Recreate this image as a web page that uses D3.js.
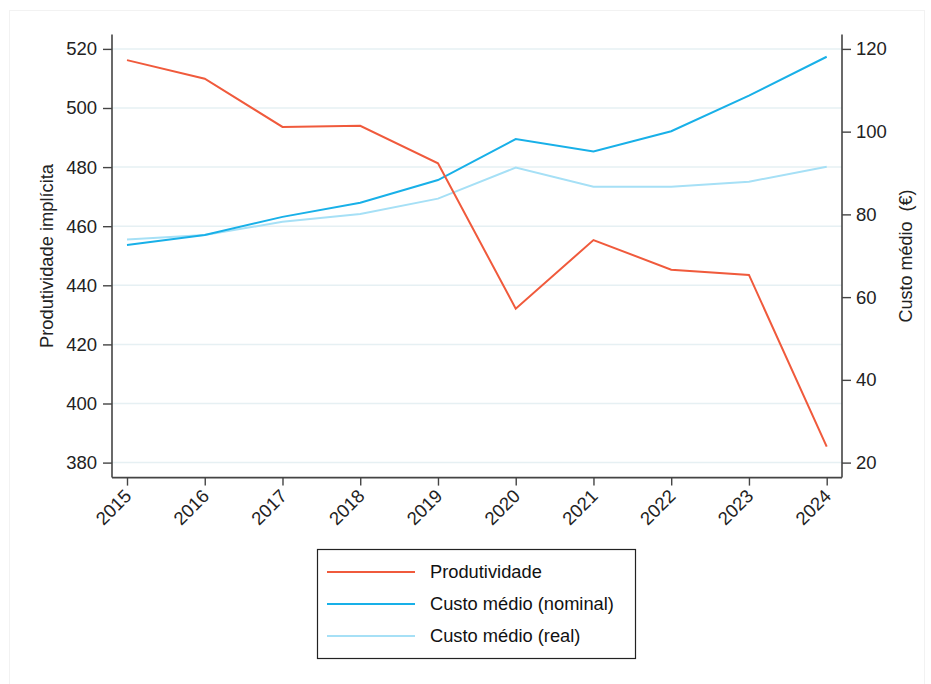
<!DOCTYPE html>
<html><head><meta charset="utf-8">
<script src="https://cdn.jsdelivr.net/npm/d3@7"></script>
<style>body{margin:0;background:#fff;}svg{display:block;font-family:"Liberation Sans",Arial,sans-serif;}</style>
</head><body><svg id="c" width="931" height="684"></svg>
<script>
const years = [2015,2016,2017,2018,2019,2020,2021,2022,2023,2024];
const produtividade = [516.2,509.9,493.6,494.0,481.3,432.1,455.3,445.3,443.5,385.4];
const custoNominal = [72.6,75.0,79.4,82.8,88.3,98.2,95.2,100.1,108.7,118.1];
const custoReal = [73.9,75.0,78.2,80.1,83.8,91.3,86.7,86.7,87.9,91.5];
const leftTicks = [380,400,420,440,460,480,500,520];
const rightTicks = [20,40,60,80,100,120];
const seriesNames = ["Produtividade","Custo médio (nominal)","Custo médio (real)"];
const colors = ["#f05a3c","#18b0e8","#a6e0f6"];

const svg = d3.select("#c");
const L=112, R=842, T=34.4, B=477.6;
svg.append("rect").attr("x",9.5).attr("y",10.5).attr("width",915).attr("height",680).attr("fill","none").attr("stroke","#f2f2f2");

const x = d3.scalePoint().domain(years).range([127,826.7]);
const yL = d3.scaleLinear().domain([380,520]).range([462.6,48.9]);
const yR = d3.scaleLinear().domain([20,120]).range([462.6,48.9]);

svg.append("g").selectAll("line").data(leftTicks).join("line")
  .attr("x1",L).attr("x2",R).attr("y1",d=>yL(d)).attr("y2",d=>yL(d))
  .attr("stroke","#e6f0f3").attr("stroke-width",1.5);

function styleAxis(g){
  g.attr("font-size",null).attr("font-family",null);
  g.selectAll(".domain").attr("stroke","#444").attr("stroke-width",1.6);
  g.selectAll(".tick line").attr("stroke","#444").attr("stroke-width",1.4);
  g.selectAll(".tick text").attr("fill","#222").style("font-size","18.5px");
}
const gL = svg.append("g").attr("transform",`translate(${L},0)`)
  .call(d3.axisLeft(yL).tickValues(leftTicks).tickSize(9).tickSizeOuter(0).tickPadding(6));
gL.select(".domain").attr("d",`M0,${T}V${B}`);
styleAxis(gL);
const gR = svg.append("g").attr("transform",`translate(${R},0)`)
  .call(d3.axisRight(yR).tickValues(rightTicks).tickSize(9).tickSizeOuter(0).tickPadding(5));
gR.select(".domain").attr("d",`M0,${T}V${B}`);
styleAxis(gR);
const gX = svg.append("g").attr("transform",`translate(0,${B})`)
  .call(d3.axisBottom(x).tickSize(8).tickSizeOuter(0));
gX.select(".domain").attr("d",`M${L},0H${R}`);
styleAxis(gX);
gX.selectAll(".tick text").attr("text-anchor","end").attr("dy","0.35em").attr("y",0)
  .attr("transform","translate(0.5,15) rotate(-45)");

svg.append("text").attr("transform","translate(53,256) rotate(-90)").attr("text-anchor","middle")
  .style("font-size","18.3px").attr("fill","#222").text("Produtividade implícita");
svg.append("text").attr("transform","translate(912,256) rotate(-90)").attr("text-anchor","middle")
  .style("font-size","18px").attr("fill","#222").attr("xml:space","preserve").text("Custo médio  (€)");

const data = [
  {vals:produtividade, y:yL},
  {vals:custoNominal, y:yR},
  {vals:custoReal, y:yR}
];
[2,1,0].forEach(i=>{
  const s=data[i];
  svg.append("path").datum(s.vals.map((v,j)=>[years[j],v]))
    .attr("fill","none").attr("stroke",colors[i]).attr("stroke-width",2)
    .attr("d",d3.line().x(d=>x(d[0])).y(d=>s.y(d[1])));
});

const lg = svg.append("g");
lg.append("rect").attr("x",317.5).attr("y",549.5).attr("width",318).attr("height",109)
  .attr("fill","#fff").attr("stroke","#222").attr("stroke-width",1.2);
seriesNames.forEach((n,i)=>{
  const yy = 572 + i*32;
  lg.append("line").attr("x1",327).attr("x2",415).attr("y1",yy).attr("y2",yy)
    .attr("stroke",colors[i]).attr("stroke-width",2);
  lg.append("text").attr("x",430).attr("y",yy).attr("dy","0.35em").style("font-size","18.3px")
    .attr("fill","#111").text(n);
});
</script></body></html>
